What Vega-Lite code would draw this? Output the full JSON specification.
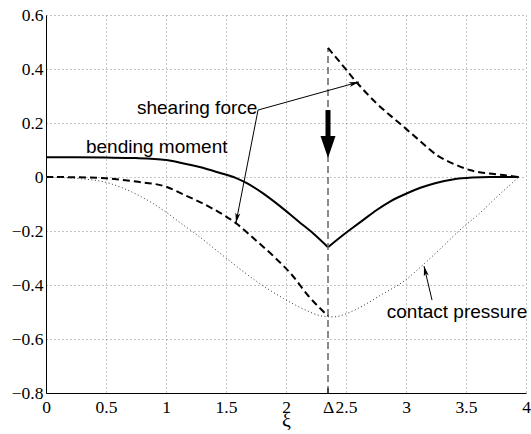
{
  "$schema": "https://vega.github.io/schema/vega-lite/v6.json",
  "width": 480,
  "height": 378,
  "autosize": "none",
  "padding": {"left": 46, "top": 15, "right": 5, "bottom": 41},
  "background": "white",
  "config": {
    "view": {"stroke": null},
    "font": "Liberation Serif",
    "axis": {
      "labelFont": "Liberation Serif", "labelFontSize": 17.5, "labelColor": "black",
      "titleFont": "Liberation Serif", "titleFontWeight": "normal", "titleColor": "black",
      "labelFlush": false, "labelOverlap": false,
      "grid": true, "gridDash": [1, 3], "gridColor": "#888",
      "domainColor": "black", "ticks": false
    }
  },
  "datasets": {
    "curves": [
      {"series": "bending moment", "part": "left", "x": 0, "y": 0.073},
      {"series": "bending moment", "part": "left", "x": 0.25, "y": 0.073},
      {"series": "bending moment", "part": "left", "x": 0.5, "y": 0.072},
      {"series": "bending moment", "part": "left", "x": 0.75, "y": 0.07},
      {"series": "bending moment", "part": "left", "x": 1.0, "y": 0.063},
      {"series": "bending moment", "part": "left", "x": 1.12, "y": 0.053},
      {"series": "bending moment", "part": "left", "x": 1.28, "y": 0.037},
      {"series": "bending moment", "part": "left", "x": 1.45, "y": 0.015},
      {"series": "bending moment", "part": "left", "x": 1.58, "y": -0.003},
      {"series": "bending moment", "part": "left", "x": 1.67, "y": -0.022},
      {"series": "bending moment", "part": "left", "x": 1.8, "y": -0.058},
      {"series": "bending moment", "part": "left", "x": 1.95, "y": -0.108},
      {"series": "bending moment", "part": "left", "x": 2.1, "y": -0.163},
      {"series": "bending moment", "part": "left", "x": 2.23, "y": -0.21},
      {"series": "bending moment", "part": "left", "x": 2.35, "y": -0.26},
      {"series": "bending moment", "part": "right", "x": 2.35, "y": -0.26},
      {"series": "bending moment", "part": "right", "x": 2.45, "y": -0.224},
      {"series": "bending moment", "part": "right", "x": 2.55, "y": -0.19},
      {"series": "bending moment", "part": "right", "x": 2.65, "y": -0.157},
      {"series": "bending moment", "part": "right", "x": 2.75, "y": -0.124},
      {"series": "bending moment", "part": "right", "x": 2.87, "y": -0.09},
      {"series": "bending moment", "part": "right", "x": 3.0, "y": -0.062},
      {"series": "bending moment", "part": "right", "x": 3.12, "y": -0.04},
      {"series": "bending moment", "part": "right", "x": 3.25, "y": -0.022},
      {"series": "bending moment", "part": "right", "x": 3.39, "y": -0.009},
      {"series": "bending moment", "part": "right", "x": 3.55, "y": -0.002},
      {"series": "bending moment", "part": "right", "x": 3.7, "y": 0},
      {"series": "bending moment", "part": "right", "x": 3.94, "y": 0},
      {"series": "shearing force", "part": "left", "x": 0, "y": 0},
      {"series": "shearing force", "part": "left", "x": 0.25, "y": -0.001},
      {"series": "shearing force", "part": "left", "x": 0.5, "y": -0.005},
      {"series": "shearing force", "part": "left", "x": 0.75, "y": -0.017},
      {"series": "shearing force", "part": "left", "x": 1.0, "y": -0.036},
      {"series": "shearing force", "part": "left", "x": 1.17, "y": -0.07},
      {"series": "shearing force", "part": "left", "x": 1.27, "y": -0.09},
      {"series": "shearing force", "part": "left", "x": 1.4, "y": -0.12},
      {"series": "shearing force", "part": "left", "x": 1.58, "y": -0.17},
      {"series": "shearing force", "part": "left", "x": 1.75, "y": -0.235},
      {"series": "shearing force", "part": "left", "x": 1.9, "y": -0.295},
      {"series": "shearing force", "part": "left", "x": 2.05, "y": -0.363},
      {"series": "shearing force", "part": "left", "x": 2.18, "y": -0.437},
      {"series": "shearing force", "part": "left", "x": 2.35, "y": -0.515},
      {"series": "shearing force", "part": "right", "x": 2.35, "y": 0.478},
      {"series": "shearing force", "part": "right", "x": 2.45, "y": 0.425},
      {"series": "shearing force", "part": "right", "x": 2.59, "y": 0.35},
      {"series": "shearing force", "part": "right", "x": 2.75, "y": 0.275},
      {"series": "shearing force", "part": "right", "x": 2.97, "y": 0.19},
      {"series": "shearing force", "part": "right", "x": 3.1, "y": 0.14},
      {"series": "shearing force", "part": "right", "x": 3.26, "y": 0.08},
      {"series": "shearing force", "part": "right", "x": 3.4, "y": 0.048},
      {"series": "shearing force", "part": "right", "x": 3.53, "y": 0.026},
      {"series": "shearing force", "part": "right", "x": 3.67, "y": 0.014},
      {"series": "shearing force", "part": "right", "x": 3.81, "y": 0.007},
      {"series": "shearing force", "part": "right", "x": 3.94, "y": 0},
      {"series": "contact pressure", "part": "p", "x": 0, "y": 0},
      {"series": "contact pressure", "part": "p", "x": 0.25, "y": -0.005},
      {"series": "contact pressure", "part": "p", "x": 0.5, "y": -0.02},
      {"series": "contact pressure", "part": "p", "x": 0.75, "y": -0.063},
      {"series": "contact pressure", "part": "p", "x": 1.0, "y": -0.13},
      {"series": "contact pressure", "part": "p", "x": 1.12, "y": -0.17},
      {"series": "contact pressure", "part": "p", "x": 1.26, "y": -0.215},
      {"series": "contact pressure", "part": "p", "x": 1.5, "y": -0.3},
      {"series": "contact pressure", "part": "p", "x": 1.75, "y": -0.385},
      {"series": "contact pressure", "part": "p", "x": 1.98, "y": -0.45},
      {"series": "contact pressure", "part": "p", "x": 2.15, "y": -0.49},
      {"series": "contact pressure", "part": "p", "x": 2.3, "y": -0.515},
      {"series": "contact pressure", "part": "p", "x": 2.4, "y": -0.518},
      {"series": "contact pressure", "part": "p", "x": 2.51, "y": -0.505},
      {"series": "contact pressure", "part": "p", "x": 2.65, "y": -0.475},
      {"series": "contact pressure", "part": "p", "x": 2.78, "y": -0.44},
      {"series": "contact pressure", "part": "p", "x": 3.0, "y": -0.38},
      {"series": "contact pressure", "part": "p", "x": 3.14, "y": -0.326},
      {"series": "contact pressure", "part": "p", "x": 3.3, "y": -0.26},
      {"series": "contact pressure", "part": "p", "x": 3.45, "y": -0.196},
      {"series": "contact pressure", "part": "p", "x": 3.6, "y": -0.14},
      {"series": "contact pressure", "part": "p", "x": 3.73, "y": -0.085},
      {"series": "contact pressure", "part": "p", "x": 3.84, "y": -0.04},
      {"series": "contact pressure", "part": "p", "x": 3.94, "y": 0}
    ],
    "labels": [
      {"text": "bending moment", "x": 0.333, "y": 0.088},
      {"text": "shearing force", "x": 0.758, "y": 0.233},
      {"text": "contact pressure", "x": 2.84, "y": -0.522}
    ],
    "arrows": [
      {"name": "a1", "x": 1.767, "y": 0.248, "x2": 2.608, "y2": 0.352},
      {"name": "a2", "x": 1.767, "y": 0.248, "x2": 1.583, "y2": -0.17},
      {"name": "a3", "x": 3.217, "y": -0.456, "x2": 3.15, "y2": -0.33}
    ],
    "load": [
      {"x": 2.35, "y": 0.248, "y2": 0.15, "tip": 0.07}
    ],
    "delta": [
      {"x": 2.35, "y": -0.8, "y2": 0.478, "tickTop": -0.782}
    ]
  },
  "encoding": {
    "x": {
      "type": "quantitative",
      "scale": {"domain": [0, 4], "nice": false, "zero": false},
      "title": "ξ",
      "axis": {
        "values": [0, 0.5, 1, 1.5, 2, 2.35, 2.5, 3, 3.5, 4],
        "format": ".1~f",
        "labelExpr": "datum.value == 2.35 ? 'Δ' : datum.label",
        "titleFontSize": 20, "titleBaseline": "alphabetic", "titleY": 33,
        "labelPadding": 5,
        "gridOpacity": {"condition": {"test": "datum.value == 2.35", "value": 0}, "value": 1}
      }
    },
    "y": {
      "type": "quantitative",
      "scale": {"domain": [-0.8, 0.6], "nice": false, "zero": false},
      "title": null,
      "axis": {
        "values": [-0.8, -0.6, -0.4, -0.2, 0, 0.2, 0.4, 0.6],
        "format": ".1~f",
        "labelPadding": 3
      }
    }
  },
  "layer": [
    {
      "data": {"name": "curves"},
      "transform": [{"filter": "datum.series == 'bending moment'"}],
      "mark": {"type": "line", "color": "black", "strokeWidth": 2, "interpolate": "monotone"},
      "encoding": {
        "x": {"field": "x"},
        "y": {"field": "y"},
        "detail": {"field": "part"}
      }
    },
    {
      "data": {"name": "delta"},
      "mark": {"type": "rule", "color": "#666", "strokeWidth": 1.5, "strokeDash": [7, 4]},
      "encoding": {
        "x": {"field": "x"},
        "y": {"field": "y"},
        "y2": {"field": "y2"}
      }
    },
    {
      "data": {"name": "delta"},
      "mark": {"type": "rule", "color": "black", "strokeWidth": 1},
      "encoding": {
        "x": {"field": "x"},
        "y": {"field": "y"},
        "y2": {"field": "tickTop"}
      }
    },
    {
      "data": {"name": "curves"},
      "transform": [{"filter": "datum.series == 'shearing force'"}],
      "mark": {"type": "line", "color": "black", "strokeWidth": 2, "strokeDash": [7, 4], "interpolate": "monotone"},
      "encoding": {
        "x": {"field": "x"},
        "y": {"field": "y"},
        "detail": {"field": "part"}
      }
    },
    {
      "data": {"name": "curves"},
      "transform": [{"filter": "datum.series == 'contact pressure'"}],
      "mark": {"type": "line", "color": "#333", "strokeWidth": 1, "strokeDash": [1, 2.5], "interpolate": "monotone"},
      "encoding": {
        "x": {"field": "x"},
        "y": {"field": "y"}
      }
    },
    {
      "data": {"name": "arrows"},
      "mark": {"type": "rule", "color": "black", "strokeWidth": 1},
      "encoding": {
        "x": {"field": "x"},
        "y": {"field": "y"},
        "x2": {"field": "x2"},
        "y2": {"field": "y2"}
      }
    },
    {
      "data": {"name": "arrows"},
      "transform": [{"filter": "datum.name == 'a1'"}],
      "mark": {"type": "point", "shape": "M0,0L-0.5,2L0,1.5L0.5,2Z", "filled": true, "color": "black", "opacity": 1, "size": 100, "strokeWidth": 0, "angle": 74.5},
      "encoding": {
        "x": {"field": "x2"},
        "y": {"field": "y2"}
      }
    },
    {
      "data": {"name": "arrows"},
      "transform": [{"filter": "datum.name == 'a2'"}],
      "mark": {"type": "point", "shape": "M0,0L-0.5,2L0,1.5L0.5,2Z", "filled": true, "color": "black", "opacity": 1, "size": 100, "strokeWidth": 0, "angle": 191},
      "encoding": {
        "x": {"field": "x2"},
        "y": {"field": "y2"}
      }
    },
    {
      "data": {"name": "arrows"},
      "transform": [{"filter": "datum.name == 'a3'"}],
      "mark": {"type": "point", "shape": "M0,0L-0.5,2L0,1.5L0.5,2Z", "filled": true, "color": "black", "opacity": 1, "size": 100, "strokeWidth": 0, "angle": 346.8},
      "encoding": {
        "x": {"field": "x2"},
        "y": {"field": "y2"}
      }
    },
    {
      "data": {"name": "load"},
      "mark": {"type": "rule", "color": "black", "strokeWidth": 5},
      "encoding": {
        "x": {"field": "x"},
        "y": {"field": "y"},
        "y2": {"field": "y2"}
      }
    },
    {
      "data": {"name": "load"},
      "mark": {"type": "point", "shape": "M0,0L-0.75,-2.2L0.75,-2.2Z", "filled": true, "color": "black", "opacity": 1, "size": 400, "strokeWidth": 0},
      "encoding": {
        "x": {"field": "x"},
        "y": {"field": "tip"}
      }
    },
    {
      "data": {"name": "labels"},
      "mark": {"type": "text", "align": "left", "baseline": "alphabetic", "font": "Liberation Sans", "fontSize": 19, "color": "black"},
      "encoding": {
        "x": {"field": "x"},
        "y": {"field": "y"},
        "text": {"field": "text"}
      }
    }
  ]
}
